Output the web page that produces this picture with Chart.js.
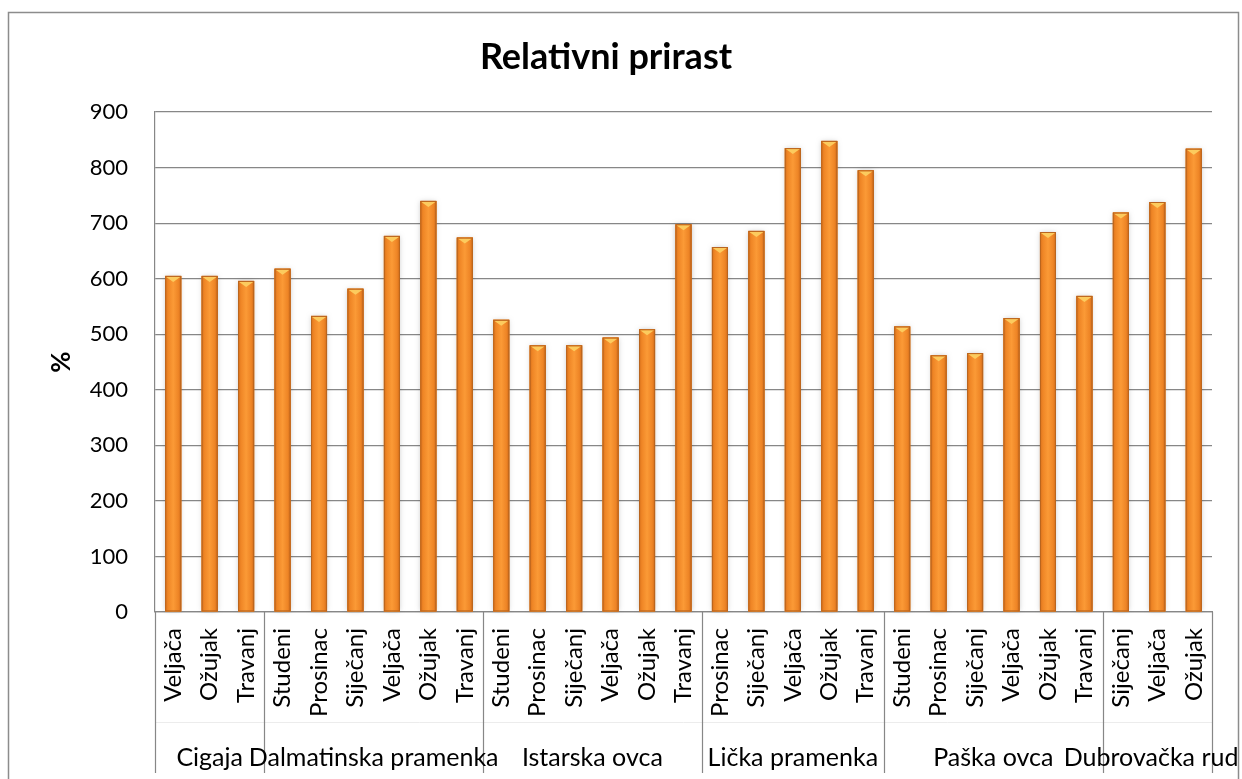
<!DOCTYPE html>
<html>
<head>
<meta charset="utf-8">
<script src="https://cdn.jsdelivr.net/npm/chart.js@4/dist/chart.umd.min.js"></script>
<style>
  html, body { margin: 0; padding: 0; background: #fff; }
  #wrap { width: 1242px; height: 779px; position: relative; }
</style>
</head>
<body>
<div id="wrap"><canvas id="c" width="1242" height="779"></canvas></div>
<script>
// ---- data ----
const chartTitle = 'Relativni prirast';
const yTitle = '%';
const groups = ['Cigaja', 'Dalmatinska pramenka', 'Istarska ovca', 'Lička pramenka', 'Paška ovca', 'Dubrovačka ruda'];
const groupSizes = [3, 6, 6, 5, 6, 3];
const months = [
  'Veljača', 'Ožujak', 'Travanj',
  'Studeni', 'Prosinac', 'Siječanj', 'Veljača', 'Ožujak', 'Travanj',
  'Studeni', 'Prosinac', 'Siječanj', 'Veljača', 'Ožujak', 'Travanj',
  'Prosinac', 'Siječanj', 'Veljača', 'Ožujak', 'Travanj',
  'Studeni', 'Prosinac', 'Siječanj', 'Veljača', 'Ožujak', 'Travanj',
  'Siječanj', 'Veljača', 'Ožujak'
];
const values = [
  605, 605, 596,
  618, 533, 582, 677, 740, 674,
  526, 480, 480, 494, 509, 698,
  657, 686, 835, 848, 795,
  514, 462, 466, 529, 684, 569,
  719, 738, 834
];
const yMin = 0, yMax = 900, yStep = 100;

// ---- layout constants ----
const PLOT_LEFT = 155, PLOT_RIGHT = 1212, PLOT_TOP = 112, PLOT_BOTTOM = 612;
const W = 1242, H = 779;
const GRID = '#878787';

Chart.defaults.font.family = 'Lato, "Open Sans", sans-serif';
Chart.defaults.color = '#000';

const framePlugin = {
  id: 'frame',
  beforeDraw(chart) {
    const ctx = chart.ctx;
    ctx.save();
    ctx.fillStyle = '#fff';
    ctx.fillRect(0, 0, W, H);
    ctx.restore();
  },
  afterDraw(chart) {
    const ctx = chart.ctx;
    ctx.save();
    ctx.strokeStyle = '#8c8c8c';
    ctx.lineWidth = 1.5;
    ctx.strokeRect(8.5, 12.5, 1230, 820);
    ctx.restore();
  }
};

const barStylePlugin = {
  id: 'barStyle',
  afterDatasetsDraw(chart) {
    const ctx = chart.ctx;
    const meta = chart.getDatasetMeta(0);
    ctx.save();
    meta.data.forEach(el => {
      const {x, y, base, width} = el.getProps(['x', 'y', 'base', 'width'], true);
      const l = x - width / 2, r = x + width / 2;
      const h = base - y;
      // soft shadow
      ctx.save();
      ctx.shadowColor = 'rgba(0,0,0,0.22)';
      ctx.shadowBlur = 5;
      ctx.fillStyle = '#E8821F';
      ctx.fillRect(l, y, width, h);
      ctx.restore();
      // body gradient
      const g = ctx.createLinearGradient(l, 0, r, 0);
      g.addColorStop(0, '#D9701A');
      g.addColorStop(0.18, '#EF8626');
      g.addColorStop(0.5, '#FB9A36');
      g.addColorStop(0.82, '#EE8526');
      g.addColorStop(1, '#CF6A19');
      ctx.fillStyle = g;
      ctx.fillRect(l, y, width, h);
      // top bevel chevron
      ctx.beginPath();
      ctx.moveTo(l + 1, y + 1);
      ctx.lineTo(r - 1, y + 1);
      ctx.lineTo(x, y + 6);
      ctx.closePath();
      ctx.fillStyle = '#FCCB5E';
      ctx.fill();
      // outline
      ctx.strokeStyle = '#B9651F';
      ctx.lineWidth = 1;
      ctx.strokeRect(l + 0.5, y + 0.5, width - 1, h - 1);
    });
    ctx.restore();
  }
};

const groupAxisPlugin = {
  id: 'groupAxis',
  afterDraw(chart) {
    const ctx = chart.ctx;
    const xs = chart.scales.x;
    const area = chart.chartArea;
    const n = months.length;
    const boundary = (i) => {
      if (i <= 0) return area.left;
      if (i >= n) return area.right;
      return (xs.getPixelForValue(i - 1) + xs.getPixelForValue(i)) / 2;
    };
    ctx.save();
    // faint divider between levels
    ctx.strokeStyle = '#ececec';
    ctx.lineWidth = 1;
    ctx.beginPath();
    ctx.moveTo(area.left, 722.5);
    ctx.lineTo(area.right, 722.5);
    ctx.stroke();
    // separators
    ctx.strokeStyle = GRID;
    ctx.lineWidth = 1.2;
    let start = 0;
    const bounds = [0];
    groupSizes.forEach(s => { start += s; bounds.push(start); });
    bounds.forEach(b => {
      const px = Math.round(boundary(b)) + 0.5;
      ctx.beginPath();
      ctx.moveTo(px, area.bottom);
      ctx.lineTo(px, 773);
      ctx.stroke();
    });
    // group labels
    ctx.beginPath();
    ctx.rect(0, 0, 1238, H);
    ctx.clip();
    ctx.fillStyle = '#000';
    ctx.font = '25px Lato, "Open Sans", sans-serif';
    ctx.textAlign = 'center';
    ctx.textBaseline = 'middle';
    groups.forEach((g, gi) => {
      const cx = (boundary(bounds[gi]) + boundary(bounds[gi + 1])) / 2;
      ctx.fillText(g, cx, 758);
    });
    ctx.restore();
  }
};

new Chart(document.getElementById('c'), {
  type: 'bar',
  data: {
    labels: months,
    datasets: [{
      data: values,
      backgroundColor: '#F08A28',
      borderWidth: 0,
      barPercentage: 0.44,
      categoryPercentage: 1.0
    }]
  },
  options: {
    responsive: false,
    animation: false,
    events: [],
    layout: { padding: { left: 0, right: W - PLOT_RIGHT, top: 0, bottom: 0 } },
    plugins: {
      legend: { display: false },
      tooltip: { enabled: false },
      title: {
        display: true,
        text: chartTitle,
        color: '#000',
        font: { size: 36, weight: 'bold' },
        padding: { top: 36, bottom: 32.8 }
      }
    },
    scales: {
      x: {
        grid: { display: false, drawTicks: false },
        border: { display: true, color: GRID, width: 1.2 },
        ticks: {
          autoSkip: false,
          maxRotation: 90,
          minRotation: 90,
          padding: 16,
          color: '#000',
          font: { size: 24 }
        },
        afterFit(scale) { scale.height = H - PLOT_BOTTOM; }
      },
      y: {
        min: yMin,
        max: yMax,
        ticks: {
          stepSize: yStep,
          padding: 27,
          color: '#000',
          font: { size: 22 }
        },
        grid: { color: GRID, lineWidth: 1.2, drawTicks: false },
        border: { display: true, color: GRID, width: 1.2 },
        title: {
          display: true,
          text: yTitle,
          color: '#000',
          font: { size: 26, weight: 'bold' },
          padding: { top: 46, bottom: 0 }
        },
        afterFit(scale) { scale.width = PLOT_LEFT; }
      }
    }
  },
  plugins: [framePlugin, barStylePlugin, groupAxisPlugin]
});
</script>
</body>
</html>
